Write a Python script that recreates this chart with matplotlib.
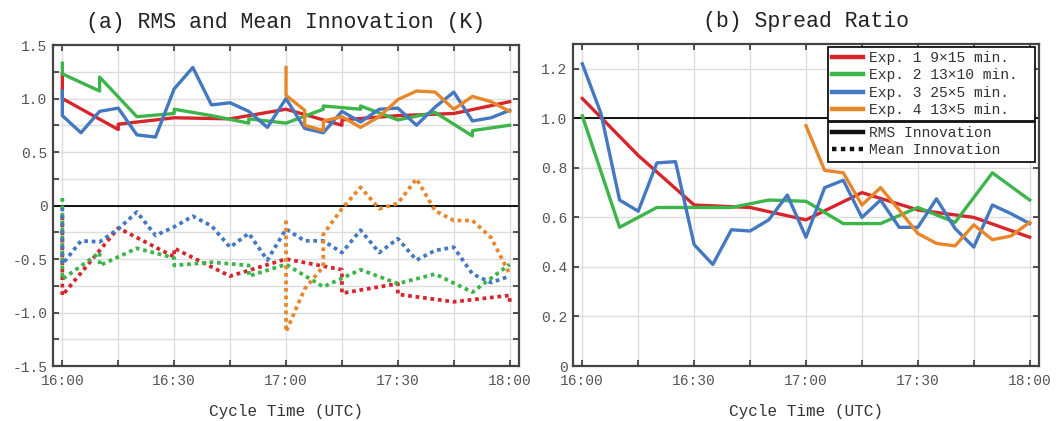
import matplotlib
matplotlib.use("Agg")
from matplotlib import pyplot as plt
from matplotlib.ticker import MultipleLocator, FuncFormatter
from matplotlib.lines import Line2D

plt.rcParams['font.family'] = ['Liberation Mono', 'DejaVu Sans Mono']
plt.rcParams['axes.unicode_minus'] = False

# minutes after 16:00
tick_pos = [0, 30, 60, 90, 120]
tick_labels = ["16:00", "16:30", "17:00", "17:30", "18:00"]

exp_names = ["Exp. 1 9\u00d715 min.", "Exp. 2 13\u00d710 min.",
             "Exp. 3 25\u00d75 min.", "Exp. 4 13\u00d75 min."]
colors = ["#d7262b", "#3db54a", "#4479c1", "#e8872a"]

# (a) RMS innovation
rms1_t = [0, 0, 15, 15, 30, 45, 60, 75, 75, 90, 105, 120]
rms1 = [1.23, 1.00, 0.71, 0.76, 0.82, 0.81, 0.90, 0.75, 0.80, 0.84, 0.86, 0.97]

rms2_t = [0, 0, 10, 10, 20, 30, 30, 40, 50, 50, 60, 70, 70, 80, 80, 90, 100, 110, 110, 120]
rms2 = [1.33, 1.23, 1.07, 1.20, 0.83, 0.86, 0.90, 0.84, 0.77, 0.81, 0.77, 0.90, 0.93,
        0.90, 0.93, 0.80, 0.87, 0.65, 0.70, 0.75]

rms3_t = [0, 0, 5, 10, 15, 20, 25, 30, 35, 40, 45, 50, 55, 60, 65, 70, 75, 80, 85, 90,
          95, 100, 105, 110, 115, 120]
rms3 = [1.07, 0.84, 0.68, 0.88, 0.91, 0.66, 0.64, 1.09, 1.29, 0.94, 0.96, 0.88, 0.73,
        1.00, 0.72, 0.68, 0.88, 0.78, 0.90, 0.91, 0.75, 0.92, 1.06, 0.79, 0.82, 0.89]

rms4_t = [60, 60, 65, 65, 70, 70, 75, 80, 85, 90, 95, 100, 105, 110, 115, 120]
rms4 = [1.29, 1.03, 0.89, 0.75, 0.70, 0.79, 0.83, 0.73, 0.83, 0.99, 1.07, 1.06, 0.90,
        1.02, 0.97, 0.88]

# (a) mean innovation
mean1_t = [0, 0, 15, 30, 30, 45, 60, 75, 75, 90, 90, 105, 120, 120]
mean1 = [-0.10, -0.84, -0.21, -0.48, -0.40, -0.66, -0.50, -0.60, -0.82, -0.73, -0.83,
         -0.90, -0.84, -0.90]

mean2_t = [0, 0, 10, 10, 20, 30, 30, 40, 50, 50, 60, 70, 80, 90, 100, 110, 120]
mean2 = [0.07, -0.69, -0.44, -0.56, -0.40, -0.49, -0.56, -0.53, -0.56, -0.66, -0.55,
         -0.76, -0.60, -0.73, -0.64, -0.81, -0.55]

mean3_t = rms3_t
mean3 = [-0.02, -0.55, -0.33, -0.34, -0.22, -0.06, -0.28, -0.20, -0.10, -0.19, -0.39,
         -0.26, -0.51, -0.22, -0.33, -0.33, -0.44, -0.23, -0.44, -0.31, -0.51, -0.42,
         -0.39, -0.64, -0.72, -0.66]

mean4_t = [60, 60, 65, 70, 70, 75, 80, 85, 90, 95, 100, 105, 110, 115, 120]
mean4 = [-0.14, -1.18, -0.78, -0.57, -0.27, -0.03, 0.17, -0.03, 0.02, 0.25, -0.05,
         -0.14, -0.14, -0.30, -0.64]

# (b) spread ratio
sr1_t = [0, 15, 30, 45, 60, 75, 90, 105, 120]
sr1 = [1.08, 0.85, 0.65, 0.64, 0.59, 0.70, 0.63, 0.60, 0.52]

sr2_t = [0, 10, 20, 30, 40, 50, 60, 70, 80, 90, 100, 110, 120]
sr2 = [1.01, 0.56, 0.64, 0.64, 0.64, 0.67, 0.665, 0.575, 0.575, 0.64, 0.58, 0.78, 0.67]

sr3_t = [0, 5, 10, 15, 20, 25, 30, 35, 40, 45, 50, 55, 60, 65, 70, 75, 80, 85, 90,
         95, 100, 105, 110, 115, 120]
sr3 = [1.22, 1.02, 0.67, 0.625, 0.82, 0.825, 0.49, 0.41, 0.55, 0.545, 0.59, 0.69, 0.52,
       0.72, 0.75, 0.60, 0.67, 0.56, 0.56, 0.675, 0.555, 0.48, 0.65, 0.615, 0.575]

sr4_t = [60, 65, 70, 75, 80, 85, 90, 95, 100, 105, 110, 115, 120]
sr4 = [0.97, 0.79, 0.78, 0.65, 0.72, 0.63, 0.535, 0.495, 0.485, 0.57, 0.51, 0.525, 0.58]

frame = "#444444"
LW = 2.4
dots = (0, (1, 1))

fig = plt.figure(figsize=(10.56, 4.21), dpi=100)
ax1 = fig.add_axes([0.0502, 0.1306, 0.4413, 0.7625])
ax2 = fig.add_axes([0.5426, 0.1306, 0.4413, 0.7649])


def zero_fmt(v, pos):
    if abs(v) < 1e-9:
        return "0"
    return "%.1f" % v


def style(ax):
    ax.set_xlim(-2.5, 122.5)
    ax.set_xticks(tick_pos)
    ax.set_xticklabels(tick_labels)
    ax.xaxis.set_minor_locator(MultipleLocator(15))
    ax.yaxis.set_major_formatter(FuncFormatter(zero_fmt))
    ax.grid(True, which='both', color='#dddddd', lw=1.0, zorder=0)
    ax.set_axisbelow(True)
    for s in ax.spines.values():
        s.set_color(frame)
        s.set_linewidth(1.6)
    ax.tick_params(which='both', direction='in', top=True, right=True,
                   length=4, width=1.3, color=frame, labelsize=10.5,
                   labelcolor='#555555')
    ax.tick_params(axis='x', pad=6)
    ax.tick_params(axis='y', pad=4)
    ax.set_xlabel("Cycle Time (UTC)", fontsize=11.5, color='#333333', labelpad=11)


# left panel
style(ax1)
ax1.set_ylim(-1.5, 1.5)
ax1.yaxis.set_major_locator(MultipleLocator(0.5))
ax1.yaxis.set_minor_locator(MultipleLocator(0.25))
ax1.axhline(0, color='#111111', lw=1.4, zorder=1)
rms_t = [rms1_t, rms2_t, rms3_t, rms4_t]
rms_v = [rms1, rms2, rms3, rms4]
mean_t = [mean1_t, mean2_t, mean3_t, mean4_t]
mean_v = [mean1, mean2, mean3, mean4]
for i in range(4):
    ax1.plot(rms_t[i], rms_v[i], color=colors[i], lw=LW, zorder=3 + i)
    ax1.plot(mean_t[i], mean_v[i], color=colors[i], lw=2.7, ls=dots, zorder=3 + i)
ax1.set_title("(a) RMS and Mean Innovation (K)", fontsize=15.5, color='#222222', pad=12)

# right panel
style(ax2)
ax2.set_ylim(0, 1.3)
ax2.yaxis.set_major_locator(MultipleLocator(0.2))
ax2.axhline(1.0, color='#111111', lw=1.4, zorder=1)
sr_t = [sr1_t, sr2_t, sr3_t, sr4_t]
sr_v = [sr1, sr2, sr3, sr4]
for i in range(4):
    ax2.plot(sr_t[i], sr_v[i], color=colors[i], lw=LW, zorder=3 + i)
ax2.set_title("(b) Spread Ratio", fontsize=15.5, color='#222222', pad=12)

# legends
h1 = [Line2D([], [], color=c, lw=3.2) for c in colors]
leg1 = ax2.legend(h1, exp_names, loc='upper left', bbox_to_anchor=(0.547, 0.759, 0.444, 0.232),
                  mode='expand', borderaxespad=0, fontsize=10.5, handlelength=2.1,
                  handletextpad=0.4, labelspacing=0.22, borderpad=0.3, fancybox=False,
                  framealpha=1, edgecolor='#111111', labelcolor='#333333')
leg1.get_frame().set_linewidth(1.3)
ax2.add_artist(leg1)
h2 = [Line2D([], [], color='#111111', lw=3.2),
      Line2D([], [], color='#111111', lw=3.2, ls=dots)]
leg2 = ax2.legend(h2, ["RMS Innovation", "Mean Innovation"], loc='upper left',
                  bbox_to_anchor=(0.547, 0.64, 0.444, 0.119), mode='expand',
                  borderaxespad=0, fontsize=10.5, handlelength=2.1, handletextpad=0.4,
                  labelspacing=0.22, borderpad=0.3, fancybox=False, framealpha=1,
                  edgecolor='#111111', labelcolor='#333333')
leg2.get_frame().set_linewidth(1.3)

fig.savefig("out.png", dpi=100)
